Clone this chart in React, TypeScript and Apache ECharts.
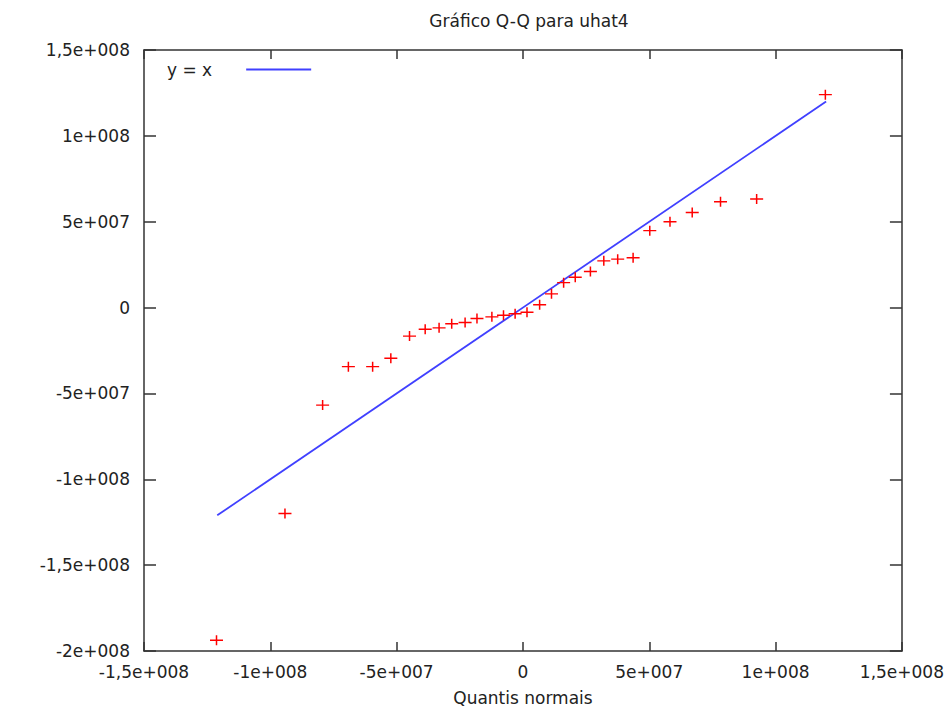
import React, { useEffect, useRef } from "react";
import * as echarts from "echarts";

const chartTitle = "Gráfico Q-Q para uhat4";
const xAxisName = "Quantis normais";
const legendLabel = "y = x";

// Normal quantiles (x) and ordered residuals uhat4 (y)
const normalQuantiles = [
  -1.213e8, -9.42e7, -7.93e7, -6.91e7, -5.95e7, -5.23e7, -4.49e7, -3.87e7,
  -3.32e7, -2.82e7, -2.29e7, -1.82e7, -1.23e7, -7.7e6, -3.1e6, 1.6e6, 6.6e6,
  1.13e7, 1.61e7, 2.07e7, 2.67e7, 3.2e7, 3.75e7, 4.36e7, 5.02e7, 5.82e7,
  6.7e7, 7.82e7, 9.25e7, 1.197e8,
];
const sampleQuantiles = [
  -1.937e8, -1.199e8, -5.68e7, -3.44e7, -3.44e7, -2.95e7, -1.66e7, -1.26e7,
  -1.18e7, -9.4e6, -8.7e6, -6.4e6, -5.4e6, -4.5e6, -3.6e6, -2.7e6, 1.6e6,
  8.0e6, 1.45e7, 1.77e7, 2.1e7, 2.72e7, 2.82e7, 2.9e7, 4.48e7, 5.0e7, 5.54e7,
  6.16e7, 6.32e7, 1.24e8,
];
// reference line y = x, spanning the quantile range
const refLineX = [-1.21e8, 1.2e8];

const xMin = -1.5e8;
const xMax = 1.5e8;
const yMin = -2e8;
const yMax = 1.5e8;
const tickStep = 5e7;

function gnuFmt(v: number): string {
  if (v === 0) return "0";
  const exp = Math.floor(Math.log10(Math.abs(v)) + 1e-9);
  const m = v / Math.pow(10, exp);
  const mStr = Number(m.toFixed(4)).toString().replace(".", ",");
  return `${mStr}e+${String(exp).padStart(3, "0")}`;
}

const FONT = "DejaVu Sans";
const AX = "#333";

export default function App() {
  const ref = useRef<HTMLDivElement>(null);
  useEffect(() => {
    document.body.style.margin = "0";
    if (!ref.current) return;
    const chart = echarts.init(ref.current, undefined, { renderer: "svg" });
    const lineStyle = { color: AX, width: 1.5 };
    const baseX = {
      type: "value" as const,
      min: xMin,
      max: xMax,
      interval: tickStep,
      splitLine: { show: false },
      axisLine: { show: true, onZero: false, lineStyle },
      axisTick: { show: true, inside: true, length: 9, lineStyle },
    };
    const baseY = {
      type: "value" as const,
      min: yMin,
      max: yMax,
      interval: tickStep,
      splitLine: { show: false },
      axisLine: { show: true, onZero: false, lineStyle },
      axisTick: { show: true, inside: true, length: 12, lineStyle },
    };
    chart.setOption({
      animation: false,
      backgroundColor: "#fff",
      title: {
        text: chartTitle,
        left: 524,
        textAlign: "center",
        top: 7,
        textStyle: { fontFamily: FONT, fontSize: 17, fontWeight: "normal", color: "#222" },
      },
      legend: {
        data: [legendLabel],
        left: 167,
        top: 61,
        padding: 0,
        align: "right",
        icon: "rect",
        itemWidth: 65,
        itemHeight: 2,
        textStyle: { fontFamily: FONT, fontSize: 17, color: "#222", padding: [0, 29, 0, 0] },
      },
      grid: { left: 144, right: 44, top: 50, bottom: 57, containLabel: false },
      xAxis: [
        {
          ...baseX,
          position: "bottom",
          name: xAxisName,
          nameLocation: "middle",
          nameGap: 38,
          nameTextStyle: { fontFamily: FONT, fontSize: 17, color: "#222" },
          axisLabel: { formatter: gnuFmt, fontFamily: FONT, fontSize: 17, color: "#222", margin: 12 },
        },
        { ...baseX, position: "top", axisLabel: { show: false } },
      ],
      yAxis: [
        {
          ...baseY,
          position: "left",
          axisLabel: { formatter: gnuFmt, fontFamily: FONT, fontSize: 17, color: "#222", margin: 14 },
        },
        { ...baseY, position: "right", axisLabel: { show: false } },
      ],
      series: [
        {
          name: legendLabel,
          type: "line",
          data: refLineX.map((v) => [v, v]),
          symbol: "none",
          lineStyle: { color: "#4040ff", width: 1.8 },
          itemStyle: { color: "#4040ff" },
          z: 2,
        },
        {
          name: "uhat4",
          type: "scatter",
          data: normalQuantiles.map((x, i) => [x, sampleQuantiles[i]]),
          symbol: "path://M0,4.3H13V5.7H0Z M5.75,0H7.25V10H5.75Z",
          symbolSize: [13, 10],
          itemStyle: { color: "#ff0000", opacity: 1 },
          z: 3,
        },
      ],
    });
    return () => chart.dispose();
  }, []);
  return <div ref={ref} style={{ width: 947, height: 711 }} />;
}
